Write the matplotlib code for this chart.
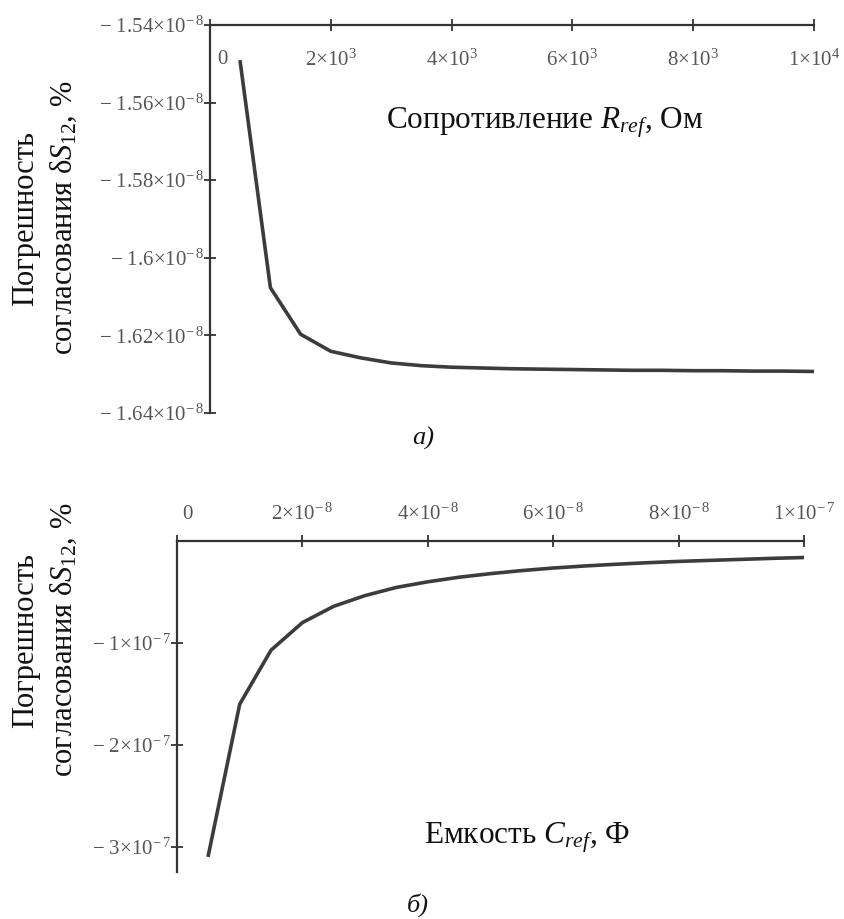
"""
Погрешность согласования dS12 vs R_ref (a) and C_ref (б), Mathcad-style axes.
Saves out.png.
"""

import numpy as np
import matplotlib
matplotlib.use("Agg")
import matplotlib.pyplot as plt
import matplotlib.transforms as mtransforms

plt.rcParams["font.family"] = ["Liberation Serif", "DejaVu Serif"]
plt.rcParams["mathtext.fontset"] = "custom"
plt.rcParams["mathtext.rm"] = "Liberation Serif"
plt.rcParams["mathtext.it"] = "Liberation Serif:italic"

# --- data (a): resistance, Ohm -> error, units of 1e-8 %
r_ohm = [500, 1000, 1500, 2000, 2500, 3000, 3500, 4000, 4500, 5000,
         5500, 6000, 6500, 7000, 7500, 8000, 8500, 9000, 9500, 10000]
ds12_r = [-1.5495, -1.6077, -1.6197, -1.6241, -1.6258, -1.6271, -1.6278,
          -1.6282, -1.6284, -1.6286, -1.6287, -1.6288, -1.6289, -1.6290,
          -1.6290, -1.6291, -1.6291, -1.6292, -1.6292, -1.6293]

# --- data (б): capacitance, units of 1e-9 F -> error, units of 1e-7 %
c_nf = [5, 10, 15, 20, 25, 30, 35, 40, 45, 50,
        55, 60, 65, 70, 75, 80, 85, 90, 95, 100]
ds12_c = [-3.08, -1.60, -1.07, -0.80, -0.64, -0.535, -0.455, -0.40, -0.355,
          -0.32, -0.29, -0.265, -0.245, -0.228, -0.213, -0.20, -0.19, -0.18,
          -0.17, -0.162]

r_ticks = [0, 2000, 4000, 6000, 8000, 10000]
r_tick_labels = ["0", "2×10$^{3}$", "4×10$^{3}$", "6×10$^{3}$", "8×10$^{3}$", "1×10$^{4}$"]
r_yticks = [-1.54e-8, -1.56e-8, -1.58e-8, -1.60e-8, -1.62e-8, -1.64e-8]
r_ytick_labels = ["− 1.54×10$^{-\\,8}$", "− 1.56×10$^{-\\,8}$", "− 1.58×10$^{-\\,8}$",
                  "− 1.6×10$^{-\\,8}$", "− 1.62×10$^{-\\,8}$", "− 1.64×10$^{-\\,8}$"]

c_ticks = [0, 2e-8, 4e-8, 6e-8, 8e-8, 1e-7]
c_tick_labels = ["0", "2×10$^{-\\,8}$", "4×10$^{-\\,8}$", "6×10$^{-\\,8}$",
                 "8×10$^{-\\,8}$", "1×10$^{-\\,7}$"]
c_yticks = [-1e-7, -2e-7, -3e-7]
c_ytick_labels = ["− 1×10$^{-\\,7}$", "− 2×10$^{-\\,7}$", "− 3×10$^{-\\,7}$"]

AXIS_COLOR = "#333333"
LINE_COLOR = "#3c3c3c"
TICK_TEXT = "#555555"
TICK_SIZE = 15
W, H = 845, 919

fig = plt.figure(figsize=(W / 100, H / 100), dpi=100, facecolor="white")


def px_axes(left, top, right, bottom):
    return fig.add_axes([left / W, 1 - bottom / H, (right - left) / W, (bottom - top) / H])


def shift_first_xlabel(ax, dx_px):
    offset = mtransforms.ScaledTranslation(dx_px / 100, 0, fig.dpi_scale_trans)
    lab = ax.get_xticklabels()[0]
    lab.set_transform(lab.get_transform() + offset)


# ---------- (a) ----------
ax1 = px_axes(210, 25, 814, 413)
ax1.plot(r_ohm, np.array(ds12_r) * 1e-8, color=LINE_COLOR, linewidth=2.6)
ax1.set_xlim(0, 1e4)
ax1.set_ylim(-1.64e-8, -1.54e-8)
ax1.spines["right"].set_visible(False)
ax1.spines["top"].set_visible(False)
ax1.spines["bottom"].set_position(("axes", 1.0))
for s in ("left", "bottom"):
    ax1.spines[s].set_color(AXIS_COLOR)
    ax1.spines[s].set_linewidth(1.6)
ax1.set_xticks(r_ticks)
ax1.set_xticklabels(r_tick_labels)
ax1.set_yticks(r_yticks)
ax1.set_yticklabels(r_ytick_labels)
ax1.tick_params(axis="x", direction="inout", length=8, width=1.3, color=AXIS_COLOR,
                pad=14, labelsize=TICK_SIZE, labelcolor=TICK_TEXT)
ax1.tick_params(axis="y", direction="inout", length=8, width=1.3, color=AXIS_COLOR,
                pad=0, labelsize=TICK_SIZE, labelcolor=TICK_TEXT)
shift_first_xlabel(ax1, 12)

fig.text(545 / W, 1 - 123 / H, "Сопротивление $R_{ref}$, Ом",
         ha="center", va="center", fontsize=22.5, color="#111111")
fig.text(45 / W, 1 - 218 / H, "Погрешность\nсогласования δ$S_{12}$, %",
         rotation=90, ha="center", va="center", multialignment="center",
         fontsize=22, linespacing=1.4, color="#111111")
fig.text(423 / W, 1 - 438 / H, "а)", ha="center", va="center",
         fontsize=19, fontstyle="italic", color="#111111")

# ---------- (б) ----------
ax2 = px_axes(177, 541, 804, 872)
ax2.plot(np.array(c_nf) * 1e-9, np.array(ds12_c) * 1e-7, color=LINE_COLOR, linewidth=2.6)
ax2.set_xlim(0, 1e-7)
ax2.set_ylim(-3.245e-7, 0)
ax2.spines["right"].set_visible(False)
ax2.spines["bottom"].set_visible(False)
for s in ("left", "top"):
    ax2.spines[s].set_color(AXIS_COLOR)
    ax2.spines[s].set_linewidth(1.6)
ax2.xaxis.tick_top()
ax2.set_xticks(c_ticks)
ax2.set_xticklabels(c_tick_labels)
ax2.set_yticks(c_yticks)
ax2.set_yticklabels(c_ytick_labels)
ax2.tick_params(axis="x", direction="inout", length=8, width=1.3, color=AXIS_COLOR,
                pad=8, labelsize=TICK_SIZE, labelcolor=TICK_TEXT)
ax2.tick_params(axis="y", direction="inout", length=8, width=1.3, color=AXIS_COLOR,
                pad=0, labelsize=TICK_SIZE, labelcolor=TICK_TEXT)
shift_first_xlabel(ax2, 10)

fig.text(527 / W, 1 - 838 / H, "Емкость $C_{ref}$, Ф",
         ha="center", va="center", fontsize=22.5, color="#111111")
fig.text(45 / W, 1 - 640 / H, "Погрешность\nсогласования δ$S_{12}$, %",
         rotation=90, ha="center", va="center", multialignment="center",
         fontsize=22, linespacing=1.4, color="#111111")
fig.text(418 / W, 1 - 905 / H, "б)", ha="center", va="center",
         fontsize=19, fontstyle="italic", color="#111111")

fig.savefig("out.png", dpi=100, facecolor="white")
